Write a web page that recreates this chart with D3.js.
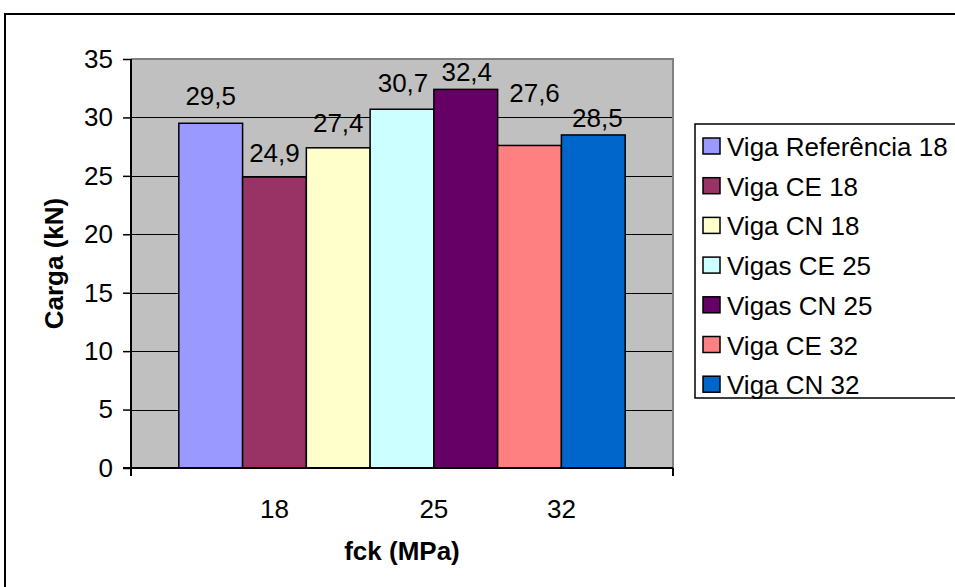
<!DOCTYPE html>
<html>
<head>
<meta charset="utf-8">
<script src="https://cdn.jsdelivr.net/npm/d3@7"></script>
<style>
  html, body { margin: 0; padding: 0; background: #fff; }
  svg { display: block; font-family: "Liberation Sans", Arial, sans-serif; }
</style>
</head>
<body>
<svg id="chart" width="955" height="587"></svg>
<script>
// Series (one bar each), their values and the fck group they belong to
const seriesNames = ["Viga Referência 18", "Viga CE 18", "Viga CN 18", "Vigas CE 25", "Vigas CN 25", "Viga CE 32", "Viga CN 32"];
const cargaValues = [29.5, 24.9, 27.4, 30.7, 32.4, 27.6, 28.5];
const seriesGroup = ["18", "18", "18", "25", "25", "32", "32"];
const fckLabels = ["18", "25", "32"];
const yTicks = [0, 5, 10, 15, 20, 25, 30, 35];
const seriesColors = ["#9999FF", "#993366", "#FFFFCC", "#CCFFFF", "#660066", "#FF8080", "#0066CC"];

const fmt = v => d3.format(".1f")(v).replace(".", ",");

const svg = d3.select("#chart");
const plot = { left: 131, top: 59, right: 673, bottom: 468 };
const FONT = 26;

// outer chart frame
svg.append("rect")
  .attr("x", 5).attr("y", 14).attr("width", 1100).attr("height", 800)
  .attr("fill", "#fff").attr("stroke", "#000").attr("stroke-width", 2);

const y = d3.scaleLinear().domain([0, 35]).range([plot.bottom, plot.top]);
// gap between the category edge and the first bar is 75% of a bar width each side
const x = d3.scaleBand().domain(seriesNames).range([plot.left, plot.right])
  .paddingInner(0).paddingOuter(0.75);

// plot area background
svg.append("rect")
  .attr("x", plot.left).attr("y", plot.top)
  .attr("width", plot.right - plot.left).attr("height", plot.bottom - plot.top)
  .attr("fill", "#C0C0C0");

// horizontal gridlines
svg.append("g").selectAll("line")
  .data(yTicks.filter(t => t > 0 && t < 35))
  .join("line")
  .attr("x1", plot.left).attr("x2", plot.right)
  .attr("y1", d => Math.round(y(d)) + 0.5).attr("y2", d => Math.round(y(d)) + 0.5)
  .attr("stroke", "#000").attr("stroke-width", 1.2);

// plot border (top and right in grey)
svg.append("path")
  .attr("d", `M${plot.left},${plot.top}H${plot.right}V${plot.bottom}`)
  .attr("fill", "none").attr("stroke", "#808080").attr("stroke-width", 2);

// bars
svg.append("g").selectAll("rect")
  .data(seriesNames)
  .join("rect")
  .attr("x", d => x(d))
  .attr("y", (d, i) => y(cargaValues[i]))
  .attr("width", x.bandwidth())
  .attr("height", (d, i) => y(0) - y(cargaValues[i]))
  .attr("fill", (d, i) => seriesColors[i])
  .attr("stroke", "#000").attr("stroke-width", 1.5);

// y axis
const yAxis = d3.axisLeft(y).tickValues(yTicks).tickSize(8).tickPadding(10)
  .tickFormat(d3.format("d"));
const yg = svg.append("g").attr("transform", `translate(${plot.left},0)`).call(yAxis);
yg.select(".domain").remove();
yg.selectAll(".tick line").attr("stroke", "#000").attr("stroke-width", 1.5);
yg.selectAll(".tick text").attr("font-size", FONT).attr("fill", "#000")
  .attr("font-family", "'Liberation Sans', Arial, sans-serif");
svg.append("line")
  .attr("x1", plot.left).attr("x2", plot.left)
  .attr("y1", plot.top).attr("y2", plot.bottom + 8)
  .attr("stroke", "#000").attr("stroke-width", 2);

// x axis line with end ticks
svg.append("line")
  .attr("x1", plot.left - 8).attr("x2", plot.right)
  .attr("y1", plot.bottom).attr("y2", plot.bottom)
  .attr("stroke", "#000").attr("stroke-width", 2);
svg.append("line")
  .attr("x1", plot.right).attr("x2", plot.right)
  .attr("y1", plot.bottom).attr("y2", plot.bottom + 8)
  .attr("stroke", "#000").attr("stroke-width", 2);

// fck labels centred under their bars
svg.append("g").selectAll("text")
  .data(fckLabels)
  .join("text")
  .attr("x", g => {
    const members = seriesNames.filter((s, i) => seriesGroup[i] === g);
    const lo = d3.min(members, s => x(s));
    const hi = d3.max(members, s => x(s) + x.bandwidth());
    return (lo + hi) / 2;
  })
  .attr("y", 518)
  .attr("text-anchor", "middle")
  .attr("font-size", FONT)
  .text(d => d);

// value labels above the bars (individually nudged)
const labelLift = [18, 15, 16, 17, 8, 43, 8];
const labelShift = [0, 0, 0, 1, 1, 5, 4];
svg.append("g").selectAll("text")
  .data(seriesNames)
  .join("text")
  .attr("x", (d, i) => x(d) + x.bandwidth() / 2 + labelShift[i])
  .attr("y", (d, i) => y(cargaValues[i]) - labelLift[i])
  .attr("text-anchor", "middle")
  .attr("font-size", FONT)
  .text((d, i) => fmt(cargaValues[i]));

// axis titles
svg.append("text")
  .attr("x", (plot.left + plot.right) / 2).attr("y", 560)
  .attr("text-anchor", "middle").attr("font-size", FONT).attr("font-weight", "bold")
  .text("fck (MPa)");
svg.append("text")
  .attr("transform", `translate(63,${(plot.top + plot.bottom) / 2}) rotate(-90)`)
  .attr("text-anchor", "middle").attr("font-size", FONT).attr("font-weight", "bold")
  .text("Carga (kN)");

// legend
const legend = svg.append("g");
legend.append("rect")
  .attr("x", 695).attr("y", 124).attr("width", 400).attr("height", 274)
  .attr("fill", "#fff").attr("stroke", "#000").attr("stroke-width", 1.5);
const rowY = i => 146 + i * 39.7;
legend.selectAll("rect.key")
  .data(seriesNames)
  .join("rect").attr("class", "key")
  .attr("x", 703).attr("y", (d, i) => rowY(i) - 8)
  .attr("width", 17).attr("height", 16)
  .attr("fill", (d, i) => seriesColors[i])
  .attr("stroke", "#000").attr("stroke-width", 1.5);
legend.selectAll("text")
  .data(seriesNames)
  .join("text")
  .attr("x", 727).attr("y", (d, i) => rowY(i) + 10)
  .attr("font-size", FONT)
  .text(d => d);
</script>
</body>
</html>
